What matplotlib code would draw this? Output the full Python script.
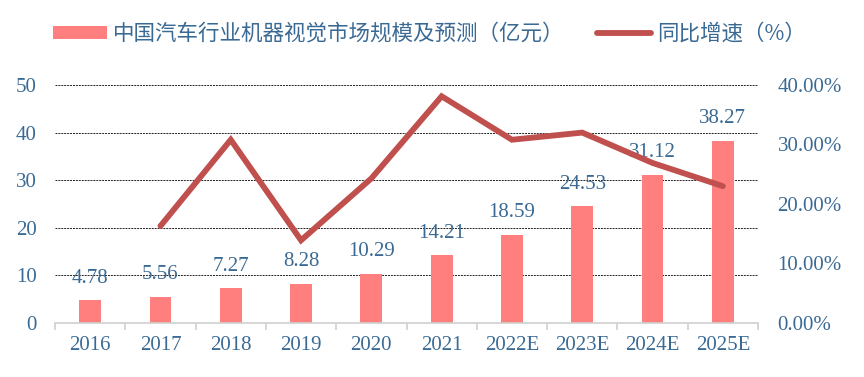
import matplotlib.pyplot as plt
import numpy as np

# chart data
years = ['2016', '2017', '2018', '2019', '2020', '2021', '2022E', '2023E', '2024E', '2025E']
market_size = [4.78, 5.56, 7.27, 8.28, 10.29, 14.21, 18.59, 24.53, 31.12, 38.27]
growth_years = ['2017', '2018', '2019', '2020', '2021', '2022E', '2023E', '2024E', '2025E']
growth_rate = [16.3, 30.8, 13.9, 24.3, 38.1, 30.8, 32.0, 26.9, 23.0]

text_color = '#3A6A94'
bar_color = '#FF7F7F'
line_color = '#C0504D'

plt.rcParams['font.family'] = ['Liberation Serif', 'DejaVu Serif']

fig = plt.figure(figsize=(8.64, 3.77), dpi=100)
ax1 = fig.add_axes([55 / 864, 54 / 377, 703 / 864, 238 / 377])
ax2 = ax1.twinx()

x = np.arange(len(years))
bars = ax1.bar(x, market_size, width=0.31, color=bar_color, zorder=2,
               label='中国汽车行业机器视觉市场规模及预测（亿元）')
# value labels above the bars
for xi, v in zip(x, market_size):
    ax1.annotate(f'{v:.2f}', (xi, v), xytext=(0, 16), textcoords='offset points',
                 ha='center', va='center', fontsize=15, color=text_color, zorder=3)

gx = [years.index(y) for y in growth_years]
line, = ax2.plot(gx, [g / 100 for g in growth_rate], color=line_color, lw=4.2,
                 solid_capstyle='round', solid_joinstyle='miter',
                 label='同比增速（%）')

ax1.set_xlim(-0.5, len(years) - 0.5)
ax1.set_ylim(0, 50)
ax1.set_yticks(range(0, 51, 10))
ax2.set_ylim(0, 0.4)
ax2.set_yticks(np.arange(0, 0.41, 0.1))
ax2.set_yticklabels([f'{t * 100:.2f}%' for t in np.arange(0, 0.41, 0.1)])

for y in range(10, 51, 10):
    ax1.axhline(y, color='#222222', lw=0.7, ls=(0, (2, 1)), zorder=1)

for ax in (ax1, ax2):
    for s in ax.spines.values():
        s.set_visible(False)
ax1.spines['bottom'].set_visible(True)
ax1.spines['bottom'].set_color('#D0D0D0')
ax1.spines['bottom'].set_linewidth(1.2)

ax1.set_xticks(x)
ax1.set_xticklabels(years)
ax1.set_xticks(np.arange(-0.5, len(years), 1), minor=True)
ax1.tick_params(axis='x', which='major', length=0, pad=9, labelsize=15, labelcolor=text_color)
ax1.tick_params(axis='x', which='minor', length=5, width=1.2, color='#D0D0D0')
ax1.tick_params(axis='y', length=0, pad=13, labelsize=15, labelcolor=text_color)
ax2.tick_params(axis='y', length=0, pad=14, labelsize=15, labelcolor=text_color)

fig.legend(handles=[bars, line], loc='center', bbox_to_anchor=(0.497, 1 - 34 / 377),
           ncol=2, frameon=False, handlelength=2.5, handleheight=0.6, columnspacing=1.5,
           handletextpad=0.3,
           prop={'family': ['Noto Sans CJK SC', 'DejaVu Sans'], 'size': 15.5},
           labelcolor=text_color)

fig.savefig('out.png', dpi=100)
